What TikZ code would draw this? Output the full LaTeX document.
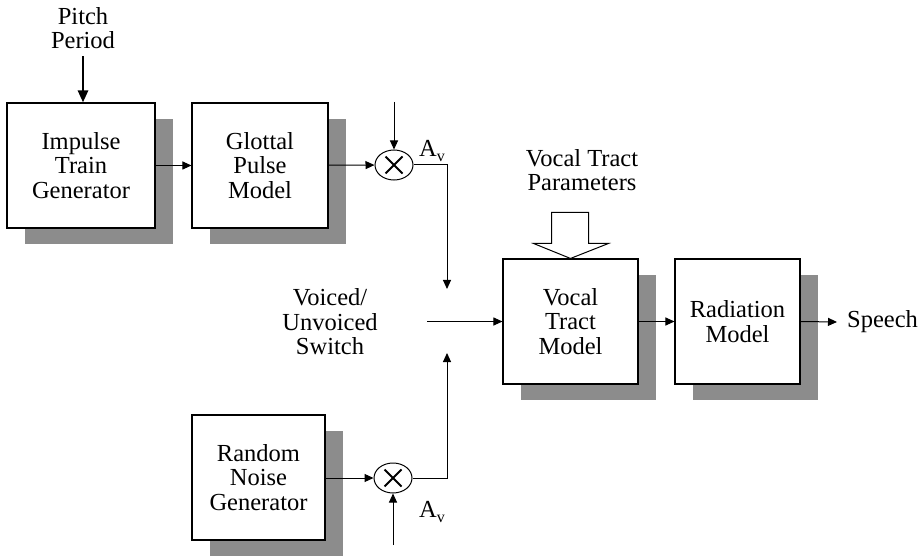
\documentclass[tikz,border=0pt]{standalone}
\usepackage{fontspec}
\setmainfont{Liberation Serif}
\usetikzlibrary{arrows.meta,shapes.geometric,shadows,calc}
\begin{document}
\begin{tikzpicture}[x=1pt,y=-1pt,
  every node/.style={font=\fontsize{24.5}{24.5}\selectfont, inner sep=0pt},
  blk/.style={draw, line width=1.1pt, fill=white, align=center, minimum height=125pt,
    general shadow={fill=black!45, shadow xshift=18pt, shadow yshift=-16pt}},
  lbl/.style={align=center},
  conn/.style={line width=1pt, -{Triangle[length=9pt,width=8pt]}},
  mult/.style={draw, ellipse, line width=1pt, minimum width=38pt, minimum height=30pt},
  crs/.style={line width=1.9pt},
  avl/.style={anchor=base west}
]
\useasboundingbox (0,0) rectangle (924,556);

% labels
\node[lbl] (pitch) at (83,28) {Pitch\\Period};
\node[lbl] (vtp) at (582,170) {Vocal Tract\\Parameters};
\node[lbl] (sw) at (330,322) {Voiced/\\Unvoiced\\Switch};
\node[anchor=west] (sp) at (847,322) {Speech};

% blocks
\node[blk, minimum width=148pt] (imp) at (81,165.5) {Impulse\\Train\\Generator};
\node[blk, minimum width=136pt] (glo) at (260,165.5) {Glottal\\Pulse\\Model};
\node[blk, minimum width=133pt] (rnd) at (258.5,477.5) {Random\\Noise\\Generator};
\node[blk, minimum width=135pt] (vt) at (570.5,321.5) {Vocal\\Tract\\Model};
\node[blk, minimum width=125pt] (rad) at (737.5,321.5) {Radiation\\Model};

% multipliers
\node[mult] (m1) at (394,165) {};
\node[mult] (m2) at (393,478) {};
\draw[crs] ($(m1)+(-8.5,-8.5)$) -- ($(m1)+(8.5,8.5)$) ($(m1)+(-8.5,8.5)$) -- ($(m1)+(8.5,-8.5)$);
\draw[crs] ($(m2)+(-8.5,-8.5)$) -- ($(m2)+(8.5,8.5)$) ($(m2)+(-8.5,8.5)$) -- ($(m2)+(8.5,-8.5)$);

\node[avl] (av1) at (419,157) {A\raisebox{-5pt}{\fontsize{16}{16}\selectfont v}};
\node[avl] (av2) at (419,517) {A\raisebox{-5pt}{\fontsize{16}{16}\selectfont v}};

% free ends
\coordinate (m1in) at (394,102);
\coordinate (m2in) at (393,545);
\coordinate (j1) at (447,289);
\coordinate (j2) at (447,353);
\coordinate (swout) at (427,321.5);

% connectors
\draw[line width=2.6pt, -{Triangle[length=12pt,width=10pt]}] ([yshift=-7pt]pitch.south) -- (pitch.south |- imp.north);
\draw[conn] (imp) -- (glo);
\draw[conn] (glo) -- (m1);
\draw[conn] (m1in) -- (m1.north);
\draw[conn] (m1.east) -| (j1);
\draw[conn] (rnd.east |- m2) -- (m2);
\draw[conn] (m2in) -- (m2.south);
\draw[conn] (m2.east) -| (j2);
\draw[conn] (swout) -- (vt.west);
\draw[conn] (vt) -- (rad);
\draw[conn] (rad.east) -- ([xshift=-10pt]sp.west);

% hollow arrow
\draw[line width=1pt, fill=white] (vt.north) -- ++(-37,-15) -- ++(18,0) -- ++(0,-31)
  -- ++(37,0) -- ++(0,31) -- ++(20,0) -- cycle;
\end{tikzpicture}
\end{document}
